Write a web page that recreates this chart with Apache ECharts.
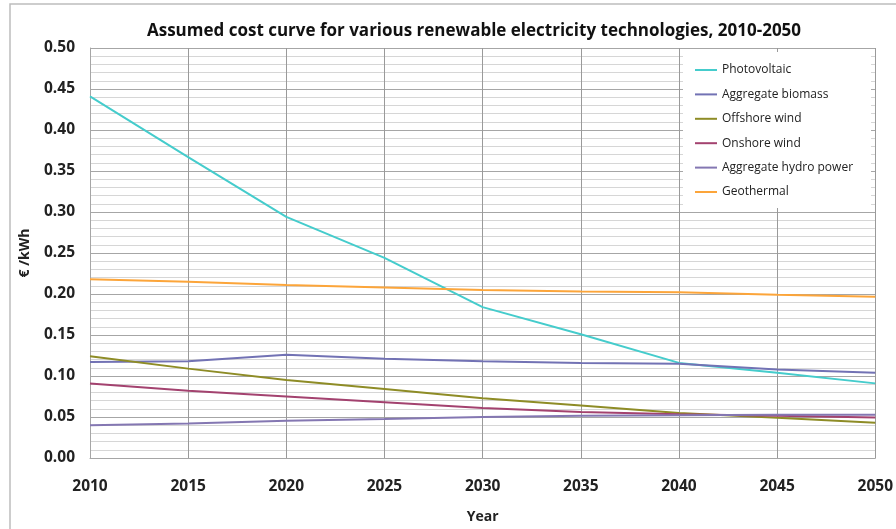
<!DOCTYPE html>
<html>
<head>
<meta charset="utf-8">
<script src="https://cdn.jsdelivr.net/npm/echarts@6/dist/echarts.min.js"></script>
<style>
  html, body { margin: 0; padding: 0; background: #fff; }
  #chart { width: 896px; height: 529px; }
</style>
</head>
<body>
<div id="chart"></div>
<script>
const years = [2010, 2015, 2020, 2025, 2030, 2035, 2040, 2045, 2050]
const photovoltaic = [0.441, 0.367, 0.294, 0.244, 0.184, 0.151, 0.116, 0.104, 0.091]
const biomass = [0.117, 0.118, 0.126, 0.121, 0.118, 0.116, 0.115, 0.108, 0.104]
const offshoreWind = [0.124, 0.109, 0.095, 0.084, 0.073, 0.064, 0.055, 0.049, 0.043]
const onshoreWind = [0.091, 0.082, 0.075, 0.068, 0.061, 0.056, 0.0535, 0.0515, 0.0495]
const hydroPower = [0.040, 0.042, 0.0455, 0.0475, 0.050, 0.0515, 0.052, 0.0527, 0.0527]
const geothermal = [0.218, 0.215, 0.211, 0.208, 0.205, 0.203, 0.202, 0.199, 0.1965]

const seriesList = [
  { name: 'Photovoltaic', data: photovoltaic, color: '#45cccc' },
  { name: 'Aggregate biomass', data: biomass, color: '#7272b4' },
  { name: 'Offshore wind', data: offshoreWind, color: '#8e8c26' },
  { name: 'Onshore wind', data: onshoreWind, color: '#a3426f' },
  { name: 'Aggregate hydro power', data: hydroPower, color: '#8477b2' },
  { name: 'Geothermal', data: geothermal, color: '#fca53a' }
]

const font = '"Open Sans", sans-serif'
const chart = echarts.init(document.getElementById('chart'))
chart.setOption({
  animation: false,
  title: {
    text: 'Assumed cost curve for various renewable electricity technologies, 2010-2050',
    left: 469,
    top: 18,
    textAlign: 'center',
    textStyle: { fontFamily: font, fontSize: 17, fontWeight: 'bold', color: '#111' }
  },
  graphic: [
    {
      type: 'rect',
      shape: { x: 10, y: 4, width: 900, height: 600 },
      style: { fill: 'none', stroke: '#bdbdbd', lineWidth: 1.5 },
      z: 0
    }
  ],
  grid: { left: 90, right: 18, top: 48, bottom: 68 },
  legend: {
    orient: 'vertical',
    left: 683,
    top: 52,
    padding: [10, 18, 8, 12],
    backgroundColor: '#fff',
    itemGap: 8.4,
    itemWidth: 22,
    itemHeight: 2,
    icon: 'rect',
    textStyle: { fontFamily: font, fontSize: 12, lineHeight: 16, color: '#222' },
    data: seriesList.map(s => s.name)
  },
  xAxis: {
    type: 'value',
    min: 2010,
    max: 2050,
    interval: 5,
    name: 'Year',
    nameLocation: 'middle',
    nameGap: 52,
    nameTextStyle: { fontFamily: font, fontSize: 14, fontWeight: 'bold', color: '#222' },
    axisLine: { show: true, lineStyle: { color: '#a6a6a6' } },
    axisTick: { show: false },
    axisLabel: {
      margin: 21,
      fontFamily: font, fontSize: 15.5, fontWeight: 'bold', color: '#222',
      formatter: v => String(v)
    },
    splitLine: { show: true, lineStyle: { color: '#9a9a9a', width: 1 } }
  },
  yAxis: {
    type: 'value',
    min: 0,
    max: 0.5,
    interval: 0.05,
    name: '€ /kWh',
    nameLocation: 'middle',
    nameGap: 58,
    nameTextStyle: { fontFamily: font, fontSize: 14, fontWeight: 'bold', color: '#222' },
    axisLine: { show: true, lineStyle: { color: '#a6a6a6' } },
    axisTick: { show: false },
    axisLabel: {
      margin: 15,
      fontFamily: font, fontSize: 15.5, fontWeight: 'bold', color: '#222',
      formatter: v => v.toFixed(2)
    },
    splitLine: { show: true, lineStyle: { color: '#a6a6a6', width: 1 } },
    minorTick: { show: false, splitNumber: 5 },
    minorSplitLine: { show: true, lineStyle: { color: '#d6d6d6', width: 1 } }
  },
  series: seriesList.map(s => ({
    name: s.name,
    type: 'line',
    data: years.map((y, i) => [y, s.data[i]]),
    symbol: 'none',
    lineStyle: { width: 2, color: s.color },
    itemStyle: { color: s.color }
  }))
})
</script>
</body>
</html>
